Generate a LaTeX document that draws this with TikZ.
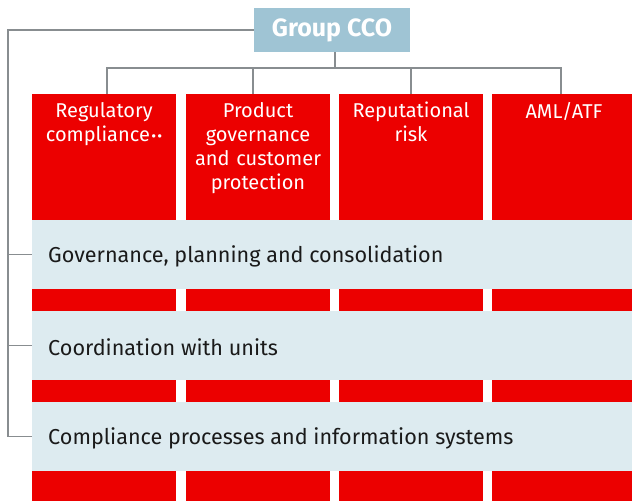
\documentclass[tikz,border=0pt]{standalone}
\usepackage{fontspec}
\setmainfont{Fira Sans}
\usepackage{xcolor}
\usetikzlibrary{positioning}
\definecolor{bankred}{HTML}{EC0000}
\definecolor{bandblue}{HTML}{DDEBF0}
\definecolor{headblue}{HTML}{9FC4D4}
\definecolor{linegray}{HTML}{888D90}
\definecolor{textdark}{HTML}{1A1A1A}

\begin{document}
\begin{tikzpicture}[x=1pt, y=-1pt,
  unitcol/.style={fill=bankred, draw=none, minimum width=144pt, minimum height=407pt, anchor=north, inner sep=0pt},
  unitlabel/.style={text=white, text width=142pt, align=center, inner sep=0pt, font=\fontsize{20}{24}\selectfont},
  band/.style={fill=bandblue, anchor=north west, minimum height=69pt, text width=568pt, inner xsep=16pt, inner ysep=0pt, align=left, text=textdark, font=\fontsize{21.6}{24}\selectfont},
  bandtext/.style={text=textdark, anchor=west, inner sep=0pt, font=\fontsize{21.6}{24}\selectfont},
  link/.style={draw=linegray, line width=1.5pt}]
  \useasboundingbox (0,0) rectangle (632,501);
  \clip (0,0) rectangle (632,501);
  % head of the function
  \node[fill=headblue, text=white, minimum width=156pt, minimum height=44pt, inner sep=0pt, font=\fontsize{25}{28}\selectfont\bfseries] (cco) at (332,30) {Group CCO};
  % red columns, one per unit
  \node[unitcol] (col1) at (104,94) {};
  \node[unitcol] (col2) at (258,94) {};
  \node[unitcol] (col3) at (411,94) {};
  \node[unitcol] (col4) at (564,94) {};
  \node[unitlabel, below=8pt of col1.north] (lab1) {Regulatory\\compliance{\fontsize{15}{15}\selectfont\kern1.5pt•\kern1pt•}};
  \node[unitlabel, below=8pt of col2.north] (lab2) {Product\\governance\\and customer\\protection};
  \node[unitlabel, below=8pt of col3.north] (lab3) {Reputational\\risk};
  \node[unitlabel, below=8pt of col4.north] (lab4) {AML/ATF};
  % bands across all columns
  \node[band] (band1) at (32,220) {};
  \node[band] (band2) at (32,311) {};
  \node[band] (band3) at (32,402) {};
  \node[bandtext] (txt1) at ([xshift=16pt, yshift=-1.5pt]band1.west) {Governance, planning and consolidation};
  \node[bandtext] (txt2) at ([xshift=16pt, yshift=-1.5pt]band2.west) {Coordination with units};
  \node[bandtext] (txt3) at ([xshift=16pt, yshift=-1.5pt]band3.west) {Compliance processes and information systems};
  % tree lines to the columns
  \coordinate (bus) at (335,68);
  \coordinate (d1) at (107,68);
  \coordinate (d2) at (253,68);
  \coordinate (d3) at (411,68);
  \coordinate (d4) at (561,68);
  \draw[link] (cco.south -| bus) -- (bus);
  \draw[link] (d1 |- col1.north) -- (d1) -- (d4) -- (d4 |- col4.north);
  \draw[link] (d2) -- (d2 |- col2.north);
  \draw[link] (d3) -- (d3 |- col3.north);
  % rail on the left to the bands
  \coordinate (rail) at (8,30);
  \draw[link] (cco.west) -- (rail) |- (band3.west);
  \draw[link] (rail |- band1.west) -- (band1.west);
  \draw[link] (rail |- band2.west) -- (band2.west);
\end{tikzpicture}
\end{document}
